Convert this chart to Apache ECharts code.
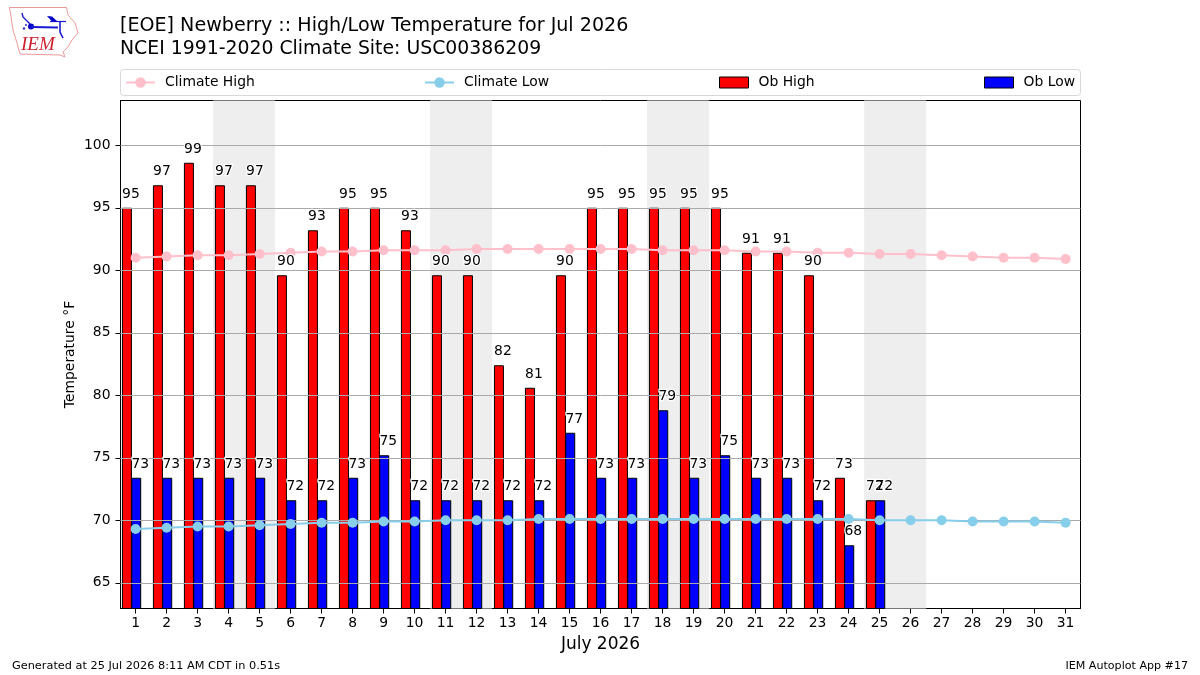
<!DOCTYPE html>
<html>
<head>
<meta charset="utf-8">
<style>html,body{margin:0;padding:0;background:#fff}#chart{width:1200px;height:675px}</style>
<script src="https://cdn.jsdelivr.net/npm/echarts@6/dist/echarts.min.js"></script>
</head>
<body>
<div id="chart"></div>
<script>
// Daily observations and NCEI climatology for Newberry, July 2026 (degrees F)
const days = [1,2,3,4,5,6,7,8,9,10,11,12,13,14,15,16,17,18,19,20,21,22,23,24,25,26,27,28,29,30,31];
const obHigh = [95,96.8,98.6,96.8,96.8,89.6,93.2,95,95,93.2,89.6,89.6,82.4,80.6,89.6,95,95,95,95,95,91.4,91.4,89.6,73.4,71.6];
const obLow = [73.4,73.4,73.4,73.4,73.4,71.6,71.6,73.4,75.2,71.6,71.6,71.6,71.6,71.6,77,73.4,73.4,78.8,73.4,75.2,73.4,73.4,71.6,68,71.6];
const climateHigh = [91.0,91.1,91.2,91.2,91.3,91.4,91.5,91.5,91.6,91.6,91.6,91.7,91.7,91.7,91.7,91.7,91.7,91.6,91.6,91.6,91.5,91.5,91.4,91.4,91.3,91.3,91.2,91.1,91.0,91.0,90.9];
const climateLow = [69.3,69.4,69.5,69.5,69.6,69.7,69.8,69.8,69.9,69.9,70.0,70.0,70.0,70.1,70.1,70.1,70.1,70.1,70.1,70.1,70.1,70.1,70.1,70.1,70.0,70.0,70.0,69.9,69.9,69.9,69.8];
const weekends = [[3.5,5.5],[10.5,12.5],[17.5,19.5],[24.5,26.5]];
const yTicks = [65,70,75,80,85,90,95,100];

const FONT = '"DejaVu Sans", sans-serif';
const LOW_SHIFT = 0.02;  // low bar is centred on the day tick
const HIGH_SHIFT = -0.28; // the high bar sits just left of it
const highPoints = obHigh.map((v, i) => [days[i] + HIGH_SHIFT, v]);
const lowPoints = obLow.map((v, i) => [days[i] + LOW_SHIFT, v]);

// Value labels are drawn twice: a white halo underneath, crisp black text on top
function valueLabels(name, points, halo) {
  return {
    name, type: 'scatter', z: halo ? 19 : 20, silent: true, symbolSize: 1,
    itemStyle: { color: 'transparent', opacity: 1 }, data: points,
    label: {
      show: true, position: 'top', distance: 6, offset: [4, 0], opacity: 1,
      fontFamily: FONT, fontSize: 13.9, color: halo ? '#fff' : '#000',
      textBorderColor: halo ? '#fff' : 'transparent', textBorderWidth: halo ? 2.5 : 0,
      formatter: p => String(Math.round(p.value[1]))
    }
  };
}
function barSeries(name, color, points, extra) {
  return Object.assign({
    name, type: 'bar', z: 2, barWidth: 10, barGap: '-100%', data: points,
    itemStyle: { color, borderColor: '#000', borderWidth: 1 }
  }, extra);
}
function climateSeries(name, color, values) {
  return {
    name, type: 'line', z: 10, symbol: 'circle', symbolSize: 10, showSymbol: true,
    lineStyle: { color, width: 2 }, itemStyle: { color },
    data: values.map((v, i) => [days[i], v])
  };
}
function legendEntry(name, left, icon) {
  const e = {
    data: [name], left, top: 75.5, itemWidth: 29, itemHeight: icon ? 11 : 13, padding: 0,
    textStyle: { fontFamily: FONT, fontSize: 13.9, color: '#000', padding: [0, 0, 0, 5] }
  };
  if (icon) {
    e.data = [{ name, icon }];
    e.itemStyle = { borderWidth: 1, borderColor: '#000' };
  }
  return e;
}

const chart = echarts.init(document.getElementById('chart'), null, { renderer: 'canvas' });
chart.setOption({
  animation: false,
  backgroundColor: '#fff',
  title: [
    { text: '[EOE] Newberry :: High/Low Temperature for Jul 2026', left: 120, top: 17, padding: 0,
      textStyle: { fontFamily: FONT, fontSize: 19.1, fontWeight: 'normal', color: '#000' } },
    { text: 'NCEI 1991-2020 Climate Site: USC00386209', left: 120, top: 40, padding: 0,
      textStyle: { fontFamily: FONT, fontSize: 18.85, fontWeight: 'normal', color: '#000' } },
    { text: 'Generated at 25 Jul 2026 8:11 AM CDT in 0.51s', left: 12, top: 661, padding: 0,
      textStyle: { fontFamily: FONT, fontSize: 11.3, fontWeight: 'normal', color: '#000' } },
    { text: 'IEM Autoplot App #17', right: 12, top: 661, padding: 0,
      textStyle: { fontFamily: FONT, fontSize: 11.1, fontWeight: 'normal', color: '#000' } }
  ],
  legend: [
    legendEntry('Climate High', 125),
    legendEntry('Climate Low', 424),
    legendEntry('Ob High', 719, 'rect'),
    legendEntry('Ob Low', 984, 'rect')
  ],
  grid: { left: 120.5, right: 119.5, top: 100.5, bottom: 66.5, show: true, borderColor: '#000', borderWidth: 1, backgroundColor: 'transparent' },
  xAxis: {
    type: 'value', min: 0.513, max: 31.48,
    name: 'July 2026', nameLocation: 'middle', nameGap: 28,
    nameTextStyle: { fontFamily: FONT, fontSize: 17, color: '#000' },
    axisLine: { show: true, lineStyle: { color: '#000', width: 1 } },
    axisTick: { show: true, length: 5, customValues: days, lineStyle: { color: '#000' } },
    axisLabel: { show: true, margin: 8, customValues: days, fontFamily: FONT, fontSize: 13.9, color: '#000', hideOverlap: false, showMinLabel: true, showMaxLabel: true },
    splitLine: { show: false }
  },
  yAxis: {
    type: 'value', min: 62.94, max: 103.58,
    name: 'Temperature °F', nameLocation: 'middle', nameGap: 43.5, nameMoveOverlap: false,
    nameTextStyle: { fontFamily: FONT, fontSize: 13.9, color: '#000' },
    axisLine: { show: true, lineStyle: { color: '#000', width: 1 } },
    axisTick: { show: true, length: 5, customValues: yTicks, lineStyle: { color: '#000' } },
    axisLabel: { show: true, margin: 10, padding: [4, 0, 0, 0], customValues: yTicks, fontFamily: FONT, fontSize: 13.9, color: '#000' },
    splitLine: { show: false }
  },
  series: [
    barSeries('Ob High', '#ff0000', highPoints, {
      markArea: {
        silent: true, z: 1, itemStyle: { color: '#eeeeee' },
        data: weekends.map(w => [{ xAxis: w[0] }, { xAxis: w[1] }])
      },
      markLine: {
        silent: true, z: 5, symbol: 'none', animation: false,
        label: { show: false }, lineStyle: { color: '#aaaaaa', width: 1, type: 'solid' },
        data: yTicks.map(v => ({ yAxis: v }))
      }
    }),
    barSeries('Ob Low', '#0000ff', lowPoints),
    climateSeries('Climate High', '#ffc0cb', climateHigh),
    climateSeries('Climate Low', '#87ceeb', climateLow),
    valueLabels('High halo', highPoints, true),
    valueLabels('Low halo', lowPoints, true),
    valueLabels('High labels', highPoints, false),
    valueLabels('Low labels', lowPoints, false)
  ],
  graphic: [
    // legend frame
    { type: 'rect', z: -1, shape: { x: 120.5, y: 69.5, width: 960, height: 26, r: 3 }, style: { fill: '#fff', stroke: '#d8d8d8', lineWidth: 1 } },
    // Iowa outline of the site logo
    { type: 'polygon', z: 30, shape: { points: [[9.5,7.5],[66.5,7.5],[68,15],[75,23],[78,33],[72,40],[68,47],[63,52],[65,57],[60,55],[20,54],[17,43],[13,30],[11,17]] }, style: { fill: '#fff', stroke: '#ee9a9a', lineWidth: 1 } },
    // weather-station glyph inside the outline
    { type: 'polyline', z: 31, shape: { points: [[22,13],[23,17],[30,24]] }, style: { fill: 'none', stroke: '#1a1ad0', lineWidth: 1.4 } },
    { type: 'circle', z: 31, shape: { cx: 31, cy: 26.5, r: 3 }, style: { fill: '#0000c8' } },
    { type: 'line', z: 31, shape: { x1: 31, y1: 27, x2: 58, y2: 27.5 }, style: { stroke: '#1a1ad0', lineWidth: 2 } },
    { type: 'line', z: 31, shape: { x1: 50, y1: 21.5, x2: 66, y2: 21.5 }, style: { stroke: '#1a1ad0', lineWidth: 1.2 } },
    { type: 'polyline', z: 31, shape: { points: [[60,21],[60,32],[63,38]] }, style: { fill: 'none', stroke: '#1a1ad0', lineWidth: 1.6 } },
    { type: 'polygon', z: 31, shape: { points: [[47,16],[52,16.5],[58,22],[52,21.5]] }, style: { fill: '#0000c8' } },
    { type: 'circle', z: 31, shape: { cx: 24, cy: 28.5, r: 1.2 }, style: { fill: '#3030d0' } },
    { type: 'circle', z: 31, shape: { cx: 26, cy: 25, r: 1 }, style: { fill: '#3030d0' } },
    { type: 'text', z: 31, left: 21, top: 35, style: { text: 'IEM', fontFamily: '"Liberation Serif", serif', fontStyle: 'italic', fontSize: 19, fill: '#d02030' } }
  ]
});
</script>
</body>
</html>
